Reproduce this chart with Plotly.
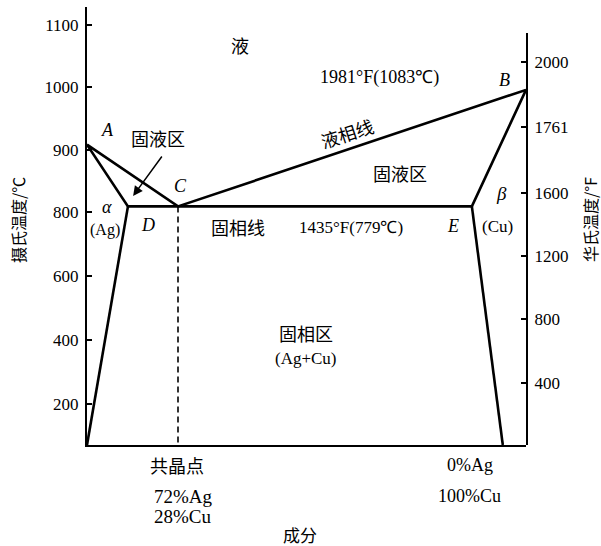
import numpy as np
import plotly.graph_objects as go

# ---- Ag–Cu phase diagram ----
# compositions in wt% Cu, temperatures in °C read on the diagram's printed scale
liquidus_cu = [0, 28, 100]            # A – C – B
liquidus_t = [908, 809, 996]
solidus_cu = [0, 12.6, 88.8, 100]     # A – D – E – B
solidus_t = [908, 809, 809, 996]
alpha_solvus_cu = [12.6, 0]           # D down to the base
alpha_solvus_t = [809, 73]
beta_solvus_cu = [88.8, 95.2]         # E down to the base
beta_solvus_t = [809, 73]
eutectic_cu = [28, 28]                # eutectic composition (dashed)
eutectic_t = [809, 73]

celsius_ticks = [200, 400, 600, 800, 900, 1000, 1100]
fahrenheit_ticks = [400, 800, 1200, 1600, 1761, 2000]

T_BASE = 73


# ---- schematic scales ----
def c_axis(t):
    """Celsius scale: the region above 800 °C is drawn stretched."""
    t = np.asarray(t, dtype=float)
    return np.where(t <= 800, t, 800 + 1.944 * (t - 800))


def f_axis(f):
    """Fahrenheit scale printed on the right, unevenly spaced at the top."""
    return np.interp(f, [0, 1600, 1761, 2000], [70, 860, 1065, 1268])


def comp_axis(cu):
    """Composition scale: the Ag-rich side is drawn compressed."""
    return np.interp(cu, [0, 28, 100], [0, 20.73, 100])


Y_TOP = 1439.6
RIGHT_DOMAIN = 0.9406

W, H = 601, 546
L, R, T, B = 87, 75, 7, 101


def paper_x(px):
    return (px - L) / (W - L - R)


def paper_y(py):
    return (H - B - py) / (H - T - B)


fig = go.Figure()

line_style = dict(color="black", width=2.6)
for cu, t in [(liquidus_cu, liquidus_t), (solidus_cu, solidus_t),
              (alpha_solvus_cu, alpha_solvus_t), (beta_solvus_cu, beta_solvus_t)]:
    fig.add_trace(go.Scatter(x=comp_axis(cu), y=c_axis(t), mode="lines",
                             line=line_style, hoverinfo="skip", showlegend=False,
                             cliponaxis=False))

fig.add_trace(go.Scatter(x=comp_axis(eutectic_cu), y=c_axis(eutectic_t), mode="lines",
                         line=dict(color="black", width=1.6, dash="6px,4px"),
                         hoverinfo="skip", showlegend=False))

# carrier for the Fahrenheit axis
fig.add_trace(go.Scatter(x=[None], y=[None], yaxis="y2", showlegend=False, hoverinfo="skip"))

SERIF = "Liberation Serif, Times New Roman, serif"
CJK = "Noto Sans CJK SC, sans-serif"


def label(text, x, y, size=18, family=CJK, italic=False, angle=0, yref="y"):
    fig.add_annotation(text=f"<i>{text}</i>" if italic else text, x=x, y=y,
                       xref="x", yref=yref, showarrow=False, textangle=angle,
                       xanchor="center", yanchor="middle",
                       font=dict(family=family, size=size, color="black"))


label("液", 34.9, 1321, size=18)
label("1981°F(1083℃)", 66.7, 1221, size=18, family=SERIF)
label("B", 95.2, 1212, size=18, family=SERIF, italic=True)
label("A", 4.6, 1056, size=18, family=SERIF, italic=True)
label("固液区", 16.2, 1031, size=18)
label("C", 21.2, 881, size=18, family=SERIF, italic=True)
label("液相线", 59.2, 1046, size=18, angle=-18)
label("固液区", 71.3, 922, size=18)
label("β", 94.5, 859, size=19, family=SERIF, italic=True)
label("(Cu)", 93.4, 756, size=17, family=SERIF)
label("α", 4.6, 815, size=18, family=SERIF, italic=True)
label("(Ag)", 4.1, 744, size=16, family=SERIF)
label("D", 13.9, 759, size=18, family=SERIF, italic=True)
label("固相线", 34.4, 753, size=18)
label("1435°F(779℃)", 60.1, 753, size=17, family=SERIF)
label("E", 83.4, 756, size=18, family=SERIF, italic=True)
label("固相区", 49.9, 422, size=18)
label("(Ag+Cu)", 49.9, 344, size=17, family=SERIF)

# labels under the composition axis
label("共晶点", 20.5, paper_y(465), size=18, yref="paper")
label("72%Ag", 21.9, paper_y(496), size=19, family=SERIF, yref="paper")
label("28%Cu", 21.9, paper_y(516), size=19, family=SERIF, yref="paper")
label("0%Ag", 87.2, paper_y(465), size=18, family=SERIF, yref="paper")
label("100%Cu", 87.2, paper_y(496), size=18, family=SERIF, yref="paper")
label("成分", 48.5, paper_y(534), size=17, yref="paper")

# arrow pointing into the two-phase region near A
fig.add_annotation(x=10.5, y=850, ax=17.3, ay=978, xref="x", yref="y",
                   axref="x", ayref="y", text="", showarrow=True,
                   arrowhead=2, arrowsize=1.3, arrowwidth=1.5, arrowcolor="black")

# axis titles
for text, px in [("摄氏温度/℃", 18), ("华氏温度/°F", 590)]:
    fig.add_annotation(text=text, x=paper_x(px), y=paper_y(220), xref="paper",
                       yref="paper", showarrow=False, textangle=-90,
                       xanchor="center", yanchor="middle",
                       font=dict(family=CJK, size=16, color="black"))

fig.update_layout(
    width=W, height=H,
    margin=dict(l=L, r=R, t=T, b=B, pad=0),
    paper_bgcolor="white", plot_bgcolor="rgba(0,0,0,0)",
    xaxis=dict(range=[0, 100], showline=True, linecolor="black", linewidth=2,
               showticklabels=False, ticks="", showgrid=False, zeroline=False,
               fixedrange=True),
    yaxis=dict(range=[T_BASE, Y_TOP], tickvals=c_axis(celsius_ticks),
               ticktext=[str(v) for v in celsius_ticks], ticks="inside", ticklen=5,
               tickwidth=1.5, tickcolor="black", showline=True, linecolor="black",
               linewidth=2, showgrid=False, zeroline=False, ticklabelstandoff=3,
               tickfont=dict(family=SERIF, size=17, color="black"), fixedrange=True),
    yaxis2=dict(domain=[0, RIGHT_DOMAIN], anchor="x", side="right",
                range=[T_BASE, T_BASE + RIGHT_DOMAIN * (Y_TOP - T_BASE)],
                tickvals=f_axis(fahrenheit_ticks),
                ticktext=[str(v) for v in fahrenheit_ticks], ticks="inside", ticklen=5,
                tickwidth=1.5, tickcolor="black", showline=True, linecolor="black",
                linewidth=2, showgrid=False, zeroline=False, ticklabelstandoff=3,
                tickfont=dict(family=SERIF, size=17, color="black"), fixedrange=True),
)

fig.write_html("out.html", config={"displayModeBar": False})
